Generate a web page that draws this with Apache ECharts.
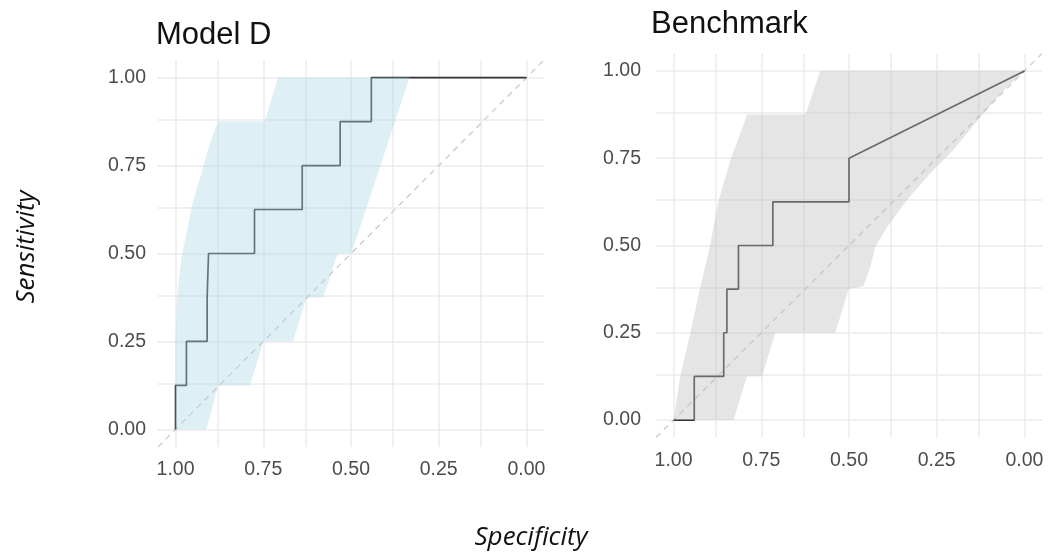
<!DOCTYPE html>
<html>
<head>
<meta charset="utf-8">
<script src="https://cdn.jsdelivr.net/npm/echarts@6/dist/echarts.min.js"></script>
<style>
html, body { margin: 0; padding: 0; background: #fff; }
#main { width: 1049px; height: 557px; }
</style>
</head>
<body>
<div id="main"></div>
<script>
// axis ticks / grid lines
var tickLabels = [0, 0.25, 0.5, 0.75, 1];
var gridTicks = [0, 0.125, 0.25, 0.375, 0.5, 0.625, 0.75, 0.875, 1];
var axisLo = -0.05, axisHi = 1.05;

// Model D roc curve (specificity, sensitivity)
var modelDSpec = [1, 1, 0.969, 0.969, 0.91, 0.91, 0.906, 0.906, 0.775, 0.775, 0.639, 0.639, 0.531, 0.531, 0.442, 0.442, 0];
var modelDSens = [0, 0.125, 0.125, 0.25, 0.25, 0.375, 0.375, 0.5, 0.5, 0.625, 0.625, 0.75, 0.75, 0.875, 0.875, 1, 1];
// Model D confidence band
var modelDUpSpec = [1, 0.997, 0.994, 0.983, 0.969, 0.954, 0.938, 0.921, 0.902, 0.879, 0.746, 0.708, 0];
var modelDUpSens = [0.25, 0.33, 0.39, 0.49, 0.557, 0.633, 0.69, 0.747, 0.813, 0.875, 0.875, 1, 1];
var modelDLoSpec = [1, 0.912, 0.879, 0.788, 0.75, 0.665, 0.627, 0.579, 0.538, 0.499, 0.333, 0];
var modelDLoSens = [0, 0, 0.125, 0.125, 0.25, 0.25, 0.375, 0.375, 0.5, 0.5, 1, 1];

// Benchmark roc curve
var benchSpec = [1, 0.941, 0.941, 0.857, 0.857, 0.848, 0.848, 0.815, 0.815, 0.717, 0.717, 0.5, 0.5, 0];
var benchSens = [0, 0, 0.125, 0.125, 0.25, 0.25, 0.375, 0.375, 0.5, 0.5, 0.625, 0.625, 0.75, 1];
// Benchmark confidence band
var benchUpSpec = [1, 0.981, 0.952, 0.925, 0.896, 0.872, 0.838, 0.79, 0.624, 0.582, 0];
var benchUpSens = [0, 0.125, 0.25, 0.375, 0.5, 0.626, 0.745, 0.875, 0.875, 1, 1];
var benchLoSpec = [1, 0.829, 0.791, 0.748, 0.71, 0.539, 0.501, 0.458, 0.439, 0.425, 0.391, 0.334, 0.268, 0.202, 0.125, 0.049, 0];
var benchLoSens = [0, 0, 0.125, 0.125, 0.25, 0.25, 0.375, 0.385, 0.44, 0.497, 0.554, 0.631, 0.707, 0.774, 0.869, 0.955, 1];

function pairs(xs, ys) {
	return xs.map(function (x, i) { return [x, ys[i]]; });
}

function ring(upX, upY, loX, loY) {
	return pairs(upX, upY).concat(pairs(loX, loY).reverse());
}

var labelFont = 'Liberation Sans';

function xAxis(idx) {
	return {
		type: 'value', gridIndex: idx, min: axisLo, max: axisHi, inverse: true,
		splitLine: { show: false }, axisLine: { show: false }, axisTick: { show: false },
		axisLabel: {
			customValues: tickLabels, margin: 13,
			color: '#4d4d4d', fontSize: 19.5, fontFamily: labelFont,
			formatter: function (v) { return v.toFixed(2); }
		}
	};
}

function yAxis(idx, margin) {
	return {
		type: 'value', gridIndex: idx, min: axisLo, max: axisHi,
		splitLine: { show: false }, axisLine: { show: false }, axisTick: { show: false },
		axisLabel: {
			customValues: tickLabels, margin: margin,
			color: '#4d4d4d', fontSize: 19.5, fontFamily: labelFont,
			formatter: function (v) { return v.toFixed(2); }
		}
	};
}

function panelSeries(idx, spec, sens, band, fill) {
	var lines = gridTicks.map(function (v) { return { xAxis: v }; })
		.concat(gridTicks.map(function (v) { return { yAxis: v }; }));
	return [
		{
			type: 'line', xAxisIndex: idx, yAxisIndex: idx, data: [], silent: true, z: 1,
			markLine: {
				z: 1, silent: true, symbol: 'none', animation: false,
				label: { show: false }, emphasis: { disabled: true },
				lineStyle: { color: '#ebebeb', width: 1.5, type: 'solid' },
				data: lines
			}
		},
		{
			type: 'line', xAxisIndex: idx, yAxisIndex: idx, silent: true, z: 2,
			data: [[axisHi, axisLo], [axisLo, axisHi]], showSymbol: false,
			lineStyle: { color: '#cacaca', width: 1.3, type: [6, 5] }
		},
		{
			type: 'line', xAxisIndex: idx, yAxisIndex: idx, silent: true, z: 3,
			data: pairs(spec, sens), showSymbol: false,
			lineStyle: { color: '#333333', width: 1.7 }
		},
		{
			type: 'custom', xAxisIndex: idx, yAxisIndex: idx, silent: true, z: 4,
			data: band, encode: { x: 0, y: 1 },
			renderItem: function (params, api) {
				if (params.dataIndex !== 0) return null;
				return {
					type: 'polygon',
					shape: { points: band.map(function (p) { return api.coord(p); }) },
					style: { fill: fill }
				};
			}
		}
	];
}

var chart = echarts.init(document.getElementById('main'));
chart.setOption({
	animation: false,
	backgroundColor: '#ffffff',
	title: [
		{ text: 'Model D', left: 156, top: 20, padding: 0,
			textStyle: { fontSize: 31, fontWeight: 'normal', color: '#111', fontFamily: labelFont } },
		{ text: 'Benchmark', left: 651, top: 9, padding: 0,
			textStyle: { fontSize: 31, fontWeight: 'normal', color: '#111', fontFamily: labelFont } }
	],
	grid: [
		{ left: 158, top: 60, width: 386, height: 387 },
		{ left: 656, top: 53.5, width: 386, height: 384 }
	],
	xAxis: [xAxis(0), xAxis(1)],
	yAxis: [yAxis(0, 12), yAxis(1, 15)],
	graphic: [
		{ type: 'text', x: 27, y: 247, rotation: Math.PI / 2,
			style: { text: 'Sensitivity', font: 'italic 26px "Open Sans"', fill: '#111', align: 'center', verticalAlign: 'middle' } },
		{ type: 'text', x: 531, y: 538,
			style: { text: 'Specificity', font: 'italic 26px "Open Sans"', fill: '#111', align: 'center', verticalAlign: 'middle' } }
	],
	series: panelSeries(0, modelDSpec, modelDSens,
			ring(modelDUpSpec, modelDUpSens, modelDLoSpec, modelDLoSens), 'rgba(173,216,230,0.4)')
		.concat(panelSeries(1, benchSpec, benchSens,
			ring(benchUpSpec, benchUpSens, benchLoSpec, benchLoSens), 'rgba(190,190,190,0.4)'))
});
</script>
</body>
</html>
